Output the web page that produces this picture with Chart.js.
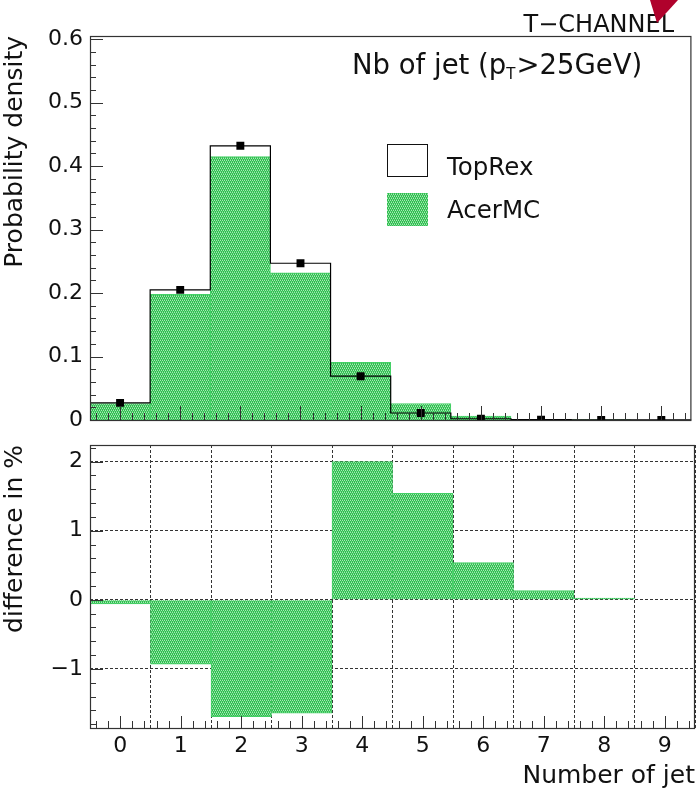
<!DOCTYPE html>
<html>
<head>
<meta charset="utf-8">
<script src="https://cdn.jsdelivr.net/npm/chart.js@4.4.1/dist/chart.umd.min.js"></script>
<style>
  html, body { margin: 0; padding: 0; background: #fff; }
  #wrap { position: relative; width: 697px; height: 791px; }
  #wrap canvas { position: absolute; left: 0; }
  #dens { top: 0; }
  #diff { top: 432px; }
</style>
</head>
<body>
<div id="wrap">
  <canvas id="dens" width="697" height="432"></canvas>
  <canvas id="diff" width="697" height="359"></canvas>
</div>
<script>
// jet multiplicity bins
const nJet = [0, 1, 2, 3, 4, 5, 6, 7, 8, 9];
const topRex = [0.027, 0.205, 0.432, 0.247, 0.069, 0.011, 0.002, 0.0005, 0.0002, 0.0001];
const acerMC = [0.026, 0.198, 0.415, 0.232, 0.091, 0.026, 0.006, 0.0012, 0.0002, 0];
const diffPct = [-0.06, -0.93, -1.69, -1.64, 2.0, 1.54, 0.54, 0.135, 0.025, 0];

const densityTicks = [0, 0.1, 0.2, 0.3, 0.4, 0.5, 0.6];
const diffTicks = [-1, 0, 1, 2];
const jetTicks = nJet;

const FONT = "'DejaVu Sans', sans-serif";
const INK = '#111';

// ROOT style dotted green fill
function greenHatch() {
  const c = document.createElement('canvas');
  c.width = 4; c.height = 4;
  const g = c.getContext('2d');
  g.fillStyle = '#2ebd4f'; g.fillRect(0, 0, 4, 4);
  g.fillStyle = '#a8e8b6';
  g.fillRect(0, 0, 1, 1); g.fillRect(2, 0, 1, 1); g.fillRect(1, 2, 1, 1); g.fillRect(3, 2, 1, 1);
  g.fillStyle = '#6ad681';
  g.fillRect(1, 1, 1, 1); g.fillRect(3, 1, 1, 1); g.fillRect(0, 3, 1, 1); g.fillRect(2, 3, 1, 1);
  return g.createPattern(c, 'repeat');
}
const GREEN = greenHatch();

function seg(ctx, x1, y1, x2, y2) {
  ctx.beginPath(); ctx.moveTo(x1, y1); ctx.lineTo(x2, y2); ctx.stroke();
}

// frame plus inward tick marks, like a ROOT pad
function frameTicks(chart, o) {
  const {ctx, chartArea: a, scales: {x, y}} = chart;
  ctx.save();
  ctx.strokeStyle = '#333';
  ctx.lineWidth = 1;
  // y ticks
  for (let k = Math.ceil(o.yLo / o.yStep - 1e-6); k * o.yStep <= o.yHi + 1e-9; k++) {
    const v = k * o.yStep;
    const py = Math.round(y.getPixelForValue(v)) + 0.5;
    const major = o.yMajor.some(m => Math.abs(m - v) < 1e-9);
    seg(ctx, a.left, py, a.left + (major ? o.yMaj : o.yMin), py);
  }
  // x ticks
  for (let k = -2; k <= 47; k++) {
    const v = k * 0.2;
    const px = Math.round(x.getPixelForValue(v)) + 0.5;
    const major = k % 5 === 0;
    seg(ctx, px, a.bottom, px, a.bottom - (major ? o.xMaj : o.xMin));
  }
  ctx.lineWidth = 1.2;
  ctx.strokeRect(a.left + 0.5, a.top + 0.5, a.right - a.left - 1, a.bottom - a.top);
  ctx.restore();
}

const densityDecor = {
  id: 'densityDecor',
  afterDraw(chart) {
    frameTicks(chart, {yLo: 0, yHi: 0.6, yStep: 0.02, yMajor: densityTicks, yMaj: 13, yMin: 6, xMaj: 14, xMin: 7});
    const ctx = chart.ctx;
    ctx.save();
    ctx.fillStyle = INK;
    ctx.textBaseline = 'alphabetic';

    // pad label
    ctx.font = `24px ${FONT}`;
    ctx.textAlign = 'right';
    ctx.fillText('T\u2212CHANNEL', 674, 32);
    ctx.fillStyle = '#b0022c';
    ctx.beginPath(); ctx.moveTo(650, 0); ctx.lineTo(678, 0); ctx.lineTo(657, 23); ctx.closePath(); ctx.fill();

    // histogram title
    ctx.fillStyle = INK;
    ctx.textAlign = 'left';
    let tx = 352;
    ctx.font = `27.5px ${FONT}`;
    ctx.fillText('Nb of jet (p', tx, 74);
    tx += ctx.measureText('Nb of jet (p').width;
    ctx.font = `15px ${FONT}`;
    ctx.fillText('T', tx, 79);
    tx += ctx.measureText('T').width + 1;
    ctx.font = `27.5px ${FONT}`;
    ctx.fillText('>25GeV)', tx, 74);

    // legend
    ctx.fillStyle = '#fff';
    ctx.fillRect(387, 144, 40, 32);
    ctx.strokeStyle = INK; ctx.lineWidth = 1;
    ctx.strokeRect(387.5, 144.5, 40, 32);
    ctx.fillStyle = chart.data.datasets[2].backgroundColor;
    ctx.fillRect(387, 193, 41, 33);
    ctx.fillStyle = INK;
    ctx.font = `24.5px ${FONT}`;
    ctx.fillText(chart.data.datasets[1].label, 447, 175);
    ctx.fillText(chart.data.datasets[2].label, 447, 218);
    ctx.restore();
  }
};

const diffDecor = {
  id: 'diffDecor',
  afterDraw(chart) {
    frameTicks(chart, {yLo: -1.8, yHi: 2.2, yStep: 0.2, yMajor: diffTicks, yMaj: 13, yMin: 6, xMaj: 12, xMin: 7});
  }
};

// keep the plot frame fixed: no label overhang padding
function fixY(s) { s.width = 90; s.paddingTop = 0; s.paddingBottom = 0; }

const stepPts = [{x: nJet[0] - 0.5, y: topRex[0]}]
  .concat(nJet.map((x, i) => ({x, y: topRex[i]})))
  .concat([{x: nJet[nJet.length - 1] + 0.5, y: topRex[topRex.length - 1]}]);

new Chart(document.getElementById('dens'), {
  type: 'bar',
  data: {
    datasets: [
      {
        type: 'line', label: 'TopRex points',
        data: nJet.map((x, i) => ({x, y: topRex[i]})),
        showLine: false, pointStyle: 'rect', pointRadius: 5.6,
        pointBackgroundColor: '#000', pointBorderWidth: 0, order: 0
      },
      {
        type: 'line', label: 'TopRex',
        data: stepPts, stepped: 'middle',
        borderColor: '#000', borderWidth: 1.2, pointRadius: 0, fill: false, order: 1
      },
      {
        type: 'bar', label: 'AcerMC',
        data: nJet.map((x, i) => ({x, y: acerMC[i]})),
        backgroundColor: GREEN, borderColor: '#44d066', borderWidth: 1,
        barPercentage: 1, categoryPercentage: 1, grouped: false, order: 2
      }
    ]
  },
  options: {
    responsive: false,
    animation: false,
    events: [],
    layout: { padding: { left: 0, top: 36, right: 2, bottom: 0 } },
    plugins: { legend: { display: false }, tooltip: { enabled: false } },
    scales: {
      x: {
        type: 'linear', min: -0.5, max: 9.5, offset: false,
        grid: { display: false, drawTicks: false }, border: { display: false },
        ticks: { display: false },
        afterBuildTicks: s => { s.ticks = jetTicks.map(v => ({value: v})); },
        afterFit: s => { s.height = 12; s.paddingLeft = 0; s.paddingRight = 0; }
      },
      y: {
        min: 0, max: 0.605,
        grid: { display: false, drawTicks: false }, border: { display: false },
        afterBuildTicks: s => { s.ticks = densityTicks.map(v => ({value: v})); },
        ticks: {
          padding: 7, color: INK, font: { family: FONT, size: 22, lineHeight: 1 },
          callback: v => v === 0 ? '0' : v.toFixed(1)
        },
        title: {
          display: true, text: 'Probability density', align: 'end', padding: 0,
          color: INK, font: { family: FONT, size: 25 }
        },
        afterFit: fixY
      }
    }
  },
  plugins: [densityDecor]
});

new Chart(document.getElementById('diff'), {
  type: 'bar',
  data: {
    datasets: [{
      label: 'difference',
      data: nJet.map((x, i) => ({x, y: diffPct[i]})),
      backgroundColor: GREEN, borderColor: '#44d066', borderWidth: 1,
      barPercentage: 1, categoryPercentage: 1
    }]
  },
  options: {
    responsive: false,
    animation: false,
    events: [],
    layout: { padding: { left: 0, top: 13, right: 2, bottom: 0 } },
    plugins: { legend: { display: false }, tooltip: { enabled: false } },
    scales: {
      x: {
        type: 'linear', min: -0.5, max: 9.5, offset: false, z: 1,
        grid: { display: true, drawTicks: false, color: '#333', lineWidth: 1 },
        border: { display: false, dash: [3, 2] },
        afterBuildTicks: s => { s.ticks = jetTicks.map(v => ({value: v})); },
        ticks: { padding: 5, color: INK, font: { family: FONT, size: 22 } },
        title: {
          display: true, text: 'Number of jet', align: 'end', padding: { top: 0, bottom: 0 },
          color: INK, font: { family: FONT, size: 25 }
        },
        afterFit: s => { s.height = 63; s.paddingLeft = 0; s.paddingRight = 0; }
      },
      y: {
        min: -1.854, max: 2.24, z: 1,
        grid: { display: true, drawTicks: false, color: '#333', lineWidth: 1 },
        border: { display: false, dash: [3, 2] },
        afterBuildTicks: s => { s.ticks = diffTicks.map(v => ({value: v})); },
        ticks: {
          padding: 7, color: INK, font: { family: FONT, size: 22, lineHeight: 1 },
          callback: v => v < 0 ? '\u2212' + Math.abs(v) : String(v)
        },
        title: {
          display: true, text: 'difference in %', align: 'end', padding: 0,
          color: INK, font: { family: FONT, size: 25 }
        },
        afterFit: fixY
      }
    }
  },
  plugins: [diffDecor]
});
</script>
</body>
</html>
